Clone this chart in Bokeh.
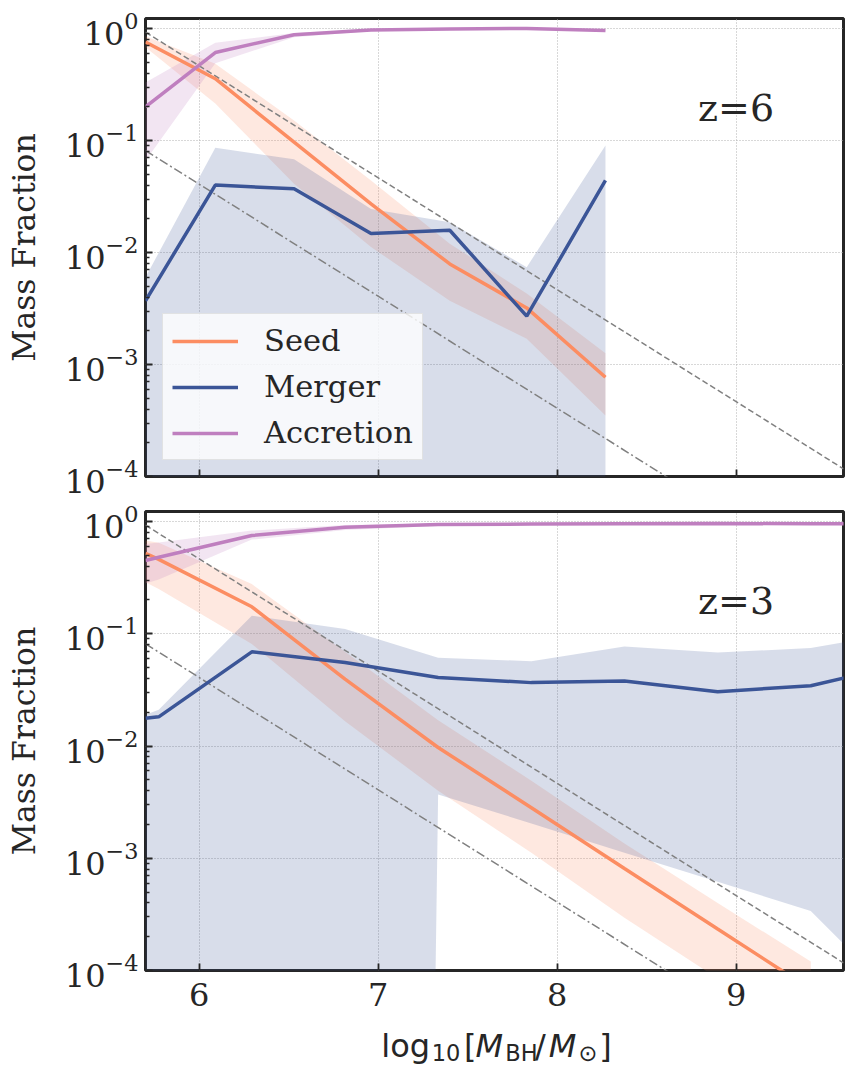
from bokeh.plotting import figure
from bokeh.models import (Range1d, FixedTicker, Legend, LegendItem, Label,
                          CustomJSTickFormatter)
from bokeh.layouts import column
from bokeh.embed import file_html
from bokeh.resources import INLINE

# ---------------- data ----------------
# z = 6 panel
x6 = [5.70, 6.09, 6.53, 6.96, 7.40, 7.83, 8.27]
seed6 = [0.755, 0.356, 0.0966, 0.0272, 0.0079, 0.0032, 0.00077]
seed6_hi = [0.851, 0.484, 0.151, 0.044, 0.012, 0.0043, 0.00126]
seed6_lo = [0.681, 0.214, 0.041, 0.0112, 0.0037, 0.0017, 0.00035]
merg6 = [0.0037, 0.040, 0.037, 0.0148, 0.0158, 0.0027, 0.044]
merg6_hi = [0.0060, 0.086, 0.068, 0.0245, 0.0186, 0.0074, 0.090]
merg6_lo = [1e-60, 1e-60, 1e-60, 1e-60, 1e-60, 1e-60, 1e-60]
accr6 = [0.20, 0.61, 0.88, 0.97, 0.99, 1.00, 0.96]
accr6_hi = [0.33, 0.745, 0.91, 0.985, 1.00, 1.01, 0.975]
accr6_lo = [0.066, 0.49, 0.835, 0.95, 0.975, 0.985, 0.945]

# z = 3 panel
x3 = [5.70, 5.774, 6.294, 6.815, 7.335, 7.856, 8.376, 8.897, 9.417, 9.94]
seed3 = [0.52, 0.46, 0.174, 0.0394, 0.0097, 0.00282, 0.00081, 0.000234, 6.8e-5]
seed3_hi = [0.676, 0.646, 0.277, 0.069, 0.017, 0.0049, 0.00135, 0.0004, 0.00012]
seed3_lo = [0.288, 0.25, 0.081, 0.0166, 0.004, 0.00112, 0.000295, 8.5e-5, 2.5e-5]
merg3 = [0.0177, 0.0182, 0.069, 0.0555, 0.0407, 0.0367, 0.038, 0.0305, 0.0344, 0.054]
merg3_hi = [0.019, 0.021, 0.145, 0.11, 0.061, 0.057, 0.077, 0.068, 0.0745, 0.105]
merg3_lo = [1e-60, 1e-60, 1e-60, 1e-60, 0.0037, 0.00204, 0.00112, 0.000617, 0.000339, 5e-5]
accr3 = [0.45, 0.48, 0.75, 0.89, 0.94, 0.95, 0.955, 0.96, 0.955, 0.95]
accr3_hi = [0.63, 0.65, 0.83, 0.93, 0.96, 0.965, 0.97, 0.975, 0.97, 0.965]
accr3_lo = [0.28, 0.305, 0.69, 0.84, 0.91, 0.935, 0.94, 0.945, 0.94, 0.935]

# reference lines (endpoints read at the axis edges)
ref_x = [5.70, 9.60]
ref_dash = [0.927, 1.17e-4]
ref_dashdot = [0.0813, 1.02e-5]

x_ticks = [6, 7, 8, 9]
y_ticks = [1e-4, 1e-3, 1e-2, 1e-1, 1e0]
y_minor = [m * 10.0 ** e for e in range(-4, 1) for m in range(2, 10)]
panel_labels = ["z=6", "z=3"]
series_names = ["Seed", "Merger", "Accretion"]

# ---------------- style ----------------
C_SEED = "#fc8d62"
C_MERG = "#3b5597"
C_ACCR = "#bf7fbf"
INK = "#262626"
SERIF = "DejaVu Serif"
FS = "30.5px"
TICK_FS = "32px"
LEFT = 145
RIGHT = 14
FW = 698


def make_fig(border_top, border_bottom, fh, show_xlabels):
    p = figure(frame_width=FW, frame_height=fh, y_axis_type="log",
               x_range=Range1d(5.7, 9.6), y_range=Range1d(1e-4, 1.228),
               output_backend="svg", toolbar_location=None,
               min_border_left=LEFT, min_border_right=RIGHT,
               min_border_top=border_top, min_border_bottom=border_bottom)
    p.outline_line_color = INK
    p.outline_line_width = 3
    p.background_fill_color = "white"
    p.border_fill_color = "white"
    p.xaxis.ticker = FixedTicker(ticks=x_ticks)
    p.yaxis.ticker = FixedTicker(ticks=y_ticks, minor_ticks=y_minor)
    for ax in (p.xaxis, p.yaxis):
        ax.axis_line_color = None
        ax.major_tick_in = 7
        ax.major_tick_out = 0
        ax.minor_tick_in = 4
        ax.minor_tick_out = 0
        ax.major_tick_line_color = INK
        ax.major_tick_line_width = 1.8
        ax.minor_tick_line_color = INK
        ax.minor_tick_line_width = 1.3
        ax.major_label_text_font = SERIF
        ax.major_label_text_font_size = TICK_FS
        ax.major_label_text_color = INK
    p.xaxis.minor_tick_line_color = None
    p.yaxis.major_label_standoff = 7
    p.yaxis.axis_label = "Mass Fraction"
    p.yaxis.axis_label_text_font = SERIF
    p.yaxis.axis_label_text_font_style = "normal"
    p.yaxis.axis_label_text_font_size = "31.5px"
    p.yaxis.axis_label_text_color = INK
    p.yaxis.axis_label_standoff = 20
    if show_xlabels:
        p.xaxis.major_label_standoff = 12
    else:
        p.xaxis.formatter = CustomJSTickFormatter(code="return ''")
        p.xaxis.major_label_standoff = 0
    p.grid.grid_line_color = "#b0b0b0"
    p.grid.grid_line_dash = "1 2"
    p.grid.grid_line_width = 1
    return p


def draw(p, x, seed, s_hi, s_lo, merg, m_hi, m_lo, accr, a_hi, a_lo, label):
    ns = len(seed)
    p.varea(x=x[:ns], y1=s_lo, y2=s_hi, fill_color=C_SEED, fill_alpha=0.2)
    p.varea(x=x, y1=m_lo, y2=m_hi, fill_color=C_MERG, fill_alpha=0.2)
    p.varea(x=x, y1=a_lo, y2=a_hi, fill_color=C_ACCR, fill_alpha=0.2)
    p.line(ref_x, ref_dash, line_color="#808080", line_width=1.5, line_dash="6 3")
    p.line(ref_x, ref_dashdot, line_color="#808080", line_width=1.5, line_dash="9 3 2 3")
    r1 = p.line(x[:ns], seed, line_color=C_SEED, line_width=3.5)
    r2 = p.line(x, merg, line_color=C_MERG, line_width=3.5)
    r3 = p.line(x, accr, line_color=C_ACCR, line_width=3.5)
    p.add_layout(Label(x=9.0, y=0.196, text=label, text_align="center",
                       text_baseline="alphabetic", text_font=SERIF,
                       text_font_size="38px", text_color=INK))
    return [r1, r2, r3]


top = make_fig(18, 26, 458, False)
bot = make_fig(9, 52, 459, True)

rs = draw(top, x6, seed6, seed6_hi, seed6_lo, merg6, merg6_hi, merg6_lo,
          accr6, accr6_hi, accr6_lo, panel_labels[0])
draw(bot, x3, seed3, seed3_hi, seed3_lo, merg3, merg3_hi, merg3_lo,
     accr3, accr3_hi, accr3_lo, panel_labels[1])

legend = Legend(items=[LegendItem(label=n, renderers=[r]) for n, r in zip(series_names, rs)],
                location=(17, 16), glyph_width=66, glyph_height=34, label_height=34,
                label_standoff=26, padding=9, spacing=11,
                label_text_font=SERIF, label_text_font_size=FS, label_text_color=INK,
                background_fill_color="white", background_fill_alpha=0.8,
                border_line_color="#cccccc", border_line_width=1.5)
top.add_layout(legend)

# x-axis label: log10[M_BH/M_sun] built from pieces in a strip below the bottom panel
LH = 44
lab = figure(frame_width=FW, frame_height=LH, x_range=Range1d(0, FW), y_range=Range1d(0, LH),
             x_axis_location=None, y_axis_location=None,
             output_backend="svg", toolbar_location=None,
             min_border_left=LEFT, min_border_right=RIGHT, min_border_top=0, min_border_bottom=0)
lab.outline_line_color = None
lab.grid.visible = False
SANS = "DejaVu Sans"
BASE = 21
SUB = 14
pieces = [
    ("log", 235.8, BASE, "32px", "normal"),
    ("10", 286.3, SUB, "22.5px", "normal"),
    ("[", 318.4, BASE, "32px", "normal"),
    ("M", 329.9, BASE, "32px", "italic"),
    ("BH", 359.7, SUB, "22.5px", "normal"),
    ("/", 389.5, BASE, "32px", "normal"),
    ("M", 403.3, BASE, "32px", "italic"),
    ("\u2299", 433.0, SUB, "22.5px", "normal"),
    ("]", 453.7, BASE, "32px", "normal"),
]
for t, px, py, fs, st in pieces:
    lab.add_layout(Label(x=px, y=py, text=t,
                         text_font=SANS, text_font_size=fs, text_font_style=st,
                         text_color=INK, text_align="left", text_baseline="alphabetic"))

layout = column(top, bot, lab, spacing=0)
open("out.html", "w").write(file_html(layout, INLINE))
